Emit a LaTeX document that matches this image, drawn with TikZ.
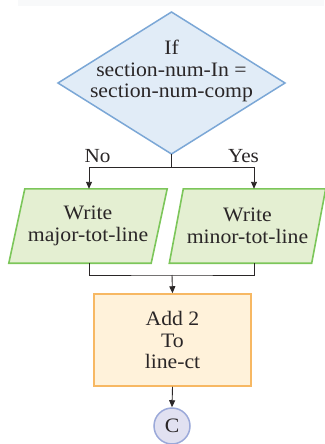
\documentclass[tikz,border=0pt]{standalone}
\usepackage{fontspec}
\setmainfont[FakeStretch=1.06]{Liberation Serif}
\usetikzlibrary{arrows.meta,calc}
\definecolor{txt}{HTML}{2A2627}
\definecolor{dfill}{HTML}{E1ECF7}
\definecolor{ddraw}{HTML}{7BA7D6}
\definecolor{pfill}{HTML}{E4EFD2}
\definecolor{pdraw}{HTML}{7CC65A}
\definecolor{rfill}{HTML}{FFF2DA}
\definecolor{rdraw}{HTML}{F7B863}
\definecolor{cfill}{HTML}{E1E1F1}
\definecolor{cdraw}{HTML}{9BA9D9}
\definecolor{strip}{HTML}{F8F9FA}
\begin{document}
\begin{tikzpicture}[x=1pt,y=-1pt,
  every node/.style={text=txt,font=\fontsize{20.5}{21.5}\selectfont,align=center,inner sep=0pt},
  conn/.style={draw=txt,line width=0.9pt},
  arr/.style={conn,-{Triangle[length=7pt,width=6pt]}},
  parabox/.style={minimum width=142pt,minimum height=74pt},
  parashape/.style={fill=pfill,draw=pdraw,line width=1.6pt,line join=miter},
  procbox/.style={rectangle,fill=rfill,draw=rdraw,line width=1.5pt,minimum width=157pt,minimum height=92pt},
  conbox/.style={circle,fill=cfill,draw=cdraw,line width=1.5pt,minimum size=36pt},
  lbl/.style={font=\fontsize{20}{21}\selectfont}
]
\useasboundingbox (0,0) rectangle (324,444);
\fill[strip] (18,0) rectangle (324,6);
% decision
\coordinate (dt) at (171.5,12);
\coordinate (dl) at (58,83);
\coordinate (dr) at (285,83);
\coordinate (db) at (171.5,154);
\filldraw[fill=dfill,draw=ddraw,line width=1.5pt,line join=miter] (dt) -- (dr) -- (db) -- (dl) -- cycle;
\node (dec) at (171.5,71) {If\\section-num-In =\\section-num-comp};
% write boxes
\node[parabox] (wl) at (88,226) {};
\node[parabox] (wr) at (247.5,226) {};
\foreach \n/\s in {wl/8,wr/7}{
  \filldraw[parashape] ($(\n.north west)+(\s,0)$) -- ($(\n.north east)+(\s,0)$) -- ($(\n.south east)-(\s,0)$) -- ($(\n.south west)-(\s,0)$) -- cycle;
}
\node (wlt) at (wl) {Write\\major-tot-line};
\node (wrt) at (wr) {Write\\minor-tot-line};
% process
\node[procbox] (add) at (172.5,340) {Add 2\\To\\line-ct};
% connector
\node[conbox] (c) at (172,426) {C};
% connectors
\coordinate (split) at (171.5,167);
\coordinate (join) at (172,275);
\draw[conn] (db) -- (split);
\draw[arr] (split) -| ([xshift=1pt]wl.north);
\draw[arr] (split) -| ([xshift=6.5pt]wr.north);
\draw[conn] ([xshift=1pt]wl.south) |- (join) -| ([xshift=6.5pt]wr.south);
\draw[arr] (join) -- (add.north);
\draw[arr] (add.south) -- (c.north);
\node[lbl] (no) at (97.5,156.5) {No};
\node[lbl] (yes) at (243.5,156.5) {Yes};
\end{tikzpicture}
\end{document}
